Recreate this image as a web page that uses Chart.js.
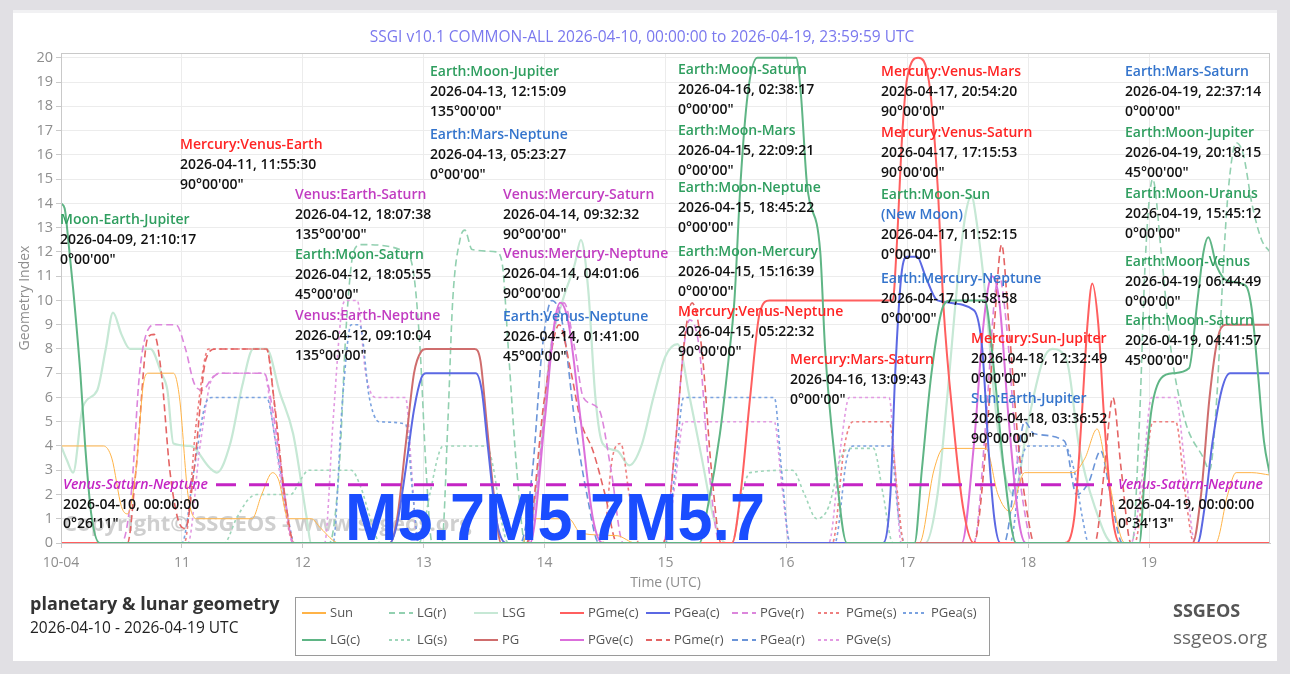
<!DOCTYPE html>
<html><head><meta charset="utf-8">
<script src="https://cdn.jsdelivr.net/npm/chart.js@4.4.1/dist/chart.umd.min.js"></script>
<style>
html,body{margin:0;padding:0;background:#e1e0e4;width:1290px;height:674px;overflow:hidden;}
#card{position:absolute;left:13px;top:13px;width:1264px;height:648px;background:#fff;box-shadow:0 -3px 0 #f1f1f3;}
canvas{display:block}
</style></head><body>
<div id="card"><canvas id="c" width="1264" height="648" style="width:1264px;height:648px"></canvas></div>
<script>
// ---------- DATA (time = day of April 2026, value = geometry index) ----------
const xTickValues = [10,11,12,13,14,15,16,17,18,19];
const xTickLabels = ['10-04','11','12','13','14','15','16','17','18','19'];

const sun = [[10,4],[10.35,4],[10.42,3.5],[10.5,1.5],[10.55,1.2],[10.62,3],[10.68,6.5],[10.72,7],[10.93,7],[10.98,6],[11.05,2],[11.12,1],[11.58,1],[11.66,2],[11.75,2.9],[11.8,2.6],[11.88,1],[12.07,1],[12.15,0.6],[12.3,0],[13.82,0],[13.88,1],[14.2,1],[14.3,0.4],[14.6,0.3],[14.75,0],[17.1,0],[17.22,3],[17.3,3.9],[17.65,3.9],[17.75,2],[17.85,1.3],[17.97,2.9],[18.37,2.9],[18.47,3.5],[18.57,4.7],[18.65,3],[18.8,0],[19.55,0],[19.65,2],[19.72,2.9],[19.85,2.9],[20,2.8]];
const lgC = [[10,14],[10.03,13.8],[10.06,12.5],[10.1,10.5],[10.16,7],[10.2,4],[10.25,1.2],[10.32,0],[15.28,0],[15.35,1.5],[15.45,4.5],[15.52,7.5],[15.57,10],[15.62,14.8],[15.68,18.5],[15.76,20],[16.08,20],[16.12,18.5],[16.17,14.8],[16.28,12],[16.32,8],[16.4,3.5],[16.5,0],[17.06,0],[17.12,3],[17.2,7],[17.3,9.8],[17.36,10],[17.64,10],[17.72,7],[17.8,3],[17.9,0],[18.92,0],[18.96,2.5],[19.02,5.5],[19.1,6.8],[19.2,7],[19.33,7.2],[19.4,10],[19.45,12],[19.49,12.6],[19.56,11.4],[19.65,10.8],[19.8,10.6],[19.85,9.6],[19.9,7],[19.95,4.2],[20,2.8]];
const lsg = [[10,4],[10.05,3.4],[10.1,2.9],[10.18,5.6],[10.3,6.3],[10.37,8],[10.43,9.5],[10.5,8.6],[10.57,8],[10.74,8],[10.83,7],[10.88,6.3],[10.93,4.1],[11.07,4],[11.23,3.1],[11.29,2.9],[11.4,4.1],[11.5,6.5],[11.59,8],[11.7,8],[11.81,6.2],[11.92,4.5],[12.03,1.1],[12.07,0],[13.85,0],[13.95,3],[14.05,8],[14.15,10],[14.25,11.5],[14.3,12.5],[14.36,10.5],[14.42,6],[14.48,4.1],[14.6,3.8],[14.7,3.2],[14.8,4],[14.9,6],[15.0,7.7],[15.1,8.2],[15.2,6],[15.3,3.5],[15.4,1],[15.5,0],[17.15,0],[17.25,2],[17.33,6],[17.42,11],[17.48,13.5],[17.53,14.3],[17.58,13],[17.65,10],[17.72,6],[17.8,3],[17.88,2],[18.0,5],[18.12,7.5],[18.2,8],[18.32,7.5],[18.42,4],[18.55,1.5],[18.7,0],[20,0]];
const lgR = [[10,0],[12.22,0],[12.3,3],[12.36,9],[12.42,12],[12.48,12.3],[12.85,12],[12.92,11],[12.97,8],[13.02,3],[13.07,0],[13.15,0],[13.2,5],[13.24,10],[13.3,12.5],[13.34,12.9],[13.4,12.1],[13.6,12],[13.65,11.5],[13.7,8],[13.77,3],[13.84,0],[18.86,0],[18.92,5],[18.97,11.8],[19.03,15],[19.1,12],[19.18,8],[19.3,5],[19.45,3.5],[19.5,3],[19.56,6],[19.62,12],[19.66,14.8],[19.72,16.5],[19.78,16],[19.85,14],[19.93,12.5],[20,12]];
const lgS = [[10,0],[11.35,0],[11.45,1],[11.55,1.8],[11.62,2],[11.9,2],[11.98,2.6],[12.05,3],[12.4,3],[12.48,2.3],[12.56,1],[12.64,0],[12.96,0],[13.05,2],[13.12,3.6],[13.16,4],[13.52,4],[13.58,3],[13.64,1],[13.7,0],[15.55,0],[15.63,2],[15.7,2.9],[16.05,3],[16.15,2],[16.25,1],[16.35,1.5],[16.45,3.5],[16.53,3.9],[16.72,3.9],[16.8,2],[16.88,0],[20,0]];
const pgmeC = [[10,0],[15.55,0],[15.62,2],[15.7,6],[15.78,9.5],[15.86,10],[16.88,10],[16.91,12],[16.96,17],[17.0,19.2],[17.09,20],[17.18,19],[17.25,14.8],[17.3,9.7],[17.38,5],[17.46,1.5],[17.55,0],[18.3,0],[18.38,1],[18.44,5],[18.49,9],[18.53,10.7],[18.58,9],[18.63,5],[18.7,1],[18.76,0],[20,0]];
const pgeaC = [[10,0],[12.72,0],[12.78,0.8],[12.85,3],[12.92,5.5],[12.98,6.8],[13.02,7],[13.43,7],[13.48,6.3],[13.53,4],[13.6,1],[13.68,0],[16.8,0],[16.86,2],[16.9,7],[16.95,11],[17.0,11.8],[17.08,11.8],[17.15,11],[17.25,10],[17.55,9.6],[17.62,8],[17.67,4],[17.72,1],[17.77,0],[19.4,0],[19.46,1.5],[19.52,4],[19.6,6.3],[19.67,7],[20,7]];
const pg = [[10,0],[12.72,0],[12.78,1],[12.85,4],[12.92,7],[12.98,7.9],[13.02,8],[13.42,8],[13.47,7.5],[13.52,5],[13.58,2],[13.64,0],[19.36,0],[19.43,2],[19.5,6],[19.57,8.5],[19.63,9],[20,9]];
const pgveC = [[10,0],[13.88,0],[14.0,5],[14.08,9],[14.13,9.9],[14.2,9],[14.3,5],[14.4,1],[14.48,0],[17.45,0],[17.55,4],[17.63,9],[17.7,11],[17.76,10],[17.84,5],[17.92,1],[17.98,0],[20,0]];
const pgveR = [[10,0],[10.5,0],[10.58,2],[10.65,7],[10.72,8.8],[10.78,9],[10.95,9],[11.03,8],[11.1,6.6],[11.17,6.3],[11.25,6.8],[11.32,7],[11.68,7],[11.75,5.5],[11.85,2],[11.92,0],[13.86,0],[13.95,3],[14.05,8],[14.16,9.9],[14.25,8],[14.32,6],[14.45,5.5],[14.55,3],[14.65,0],[14.98,0],[15.08,4],[15.15,8],[15.2,9.2],[15.28,8],[15.36,3],[15.45,0],[17.55,0],[17.65,5],[17.72,10],[17.76,11],[17.82,9],[17.9,4],[17.98,1],[18.03,0],[20,0]];
const pgmeR = [[10,0],[10.55,0],[10.62,3],[10.72,8.5],[10.77,8.6],[10.83,7],[10.9,3],[10.98,0.8],[11.03,0.6],[11.1,3],[11.2,7.6],[11.28,8],[11.7,8],[11.76,6],[11.85,2],[11.93,0],[13.85,0],[14.0,6],[14.12,9],[14.22,7],[14.3,5],[14.4,3.8],[14.5,2],[14.6,0],[14.98,0],[15.08,4],[15.16,8.5],[15.22,9.9],[15.3,8],[15.38,3],[15.46,0],[17.55,0],[17.65,4],[17.72,9],[17.78,12.3],[17.84,9],[17.92,4],[18.0,1],[18.05,0],[18.55,0],[18.63,3],[18.7,6],[18.77,3],[18.85,0],[20,0]];
const pgeaR = [[10,0],[13.8,0],[13.9,3],[13.98,8],[14.06,10],[14.15,9],[14.25,5],[14.35,2],[14.45,0],[17.8,0],[17.9,3],[17.97,5],[18.05,4.5],[18.3,4.2],[18.4,2],[18.5,2.5],[18.6,3.8],[18.68,2],[18.78,0],[20,0]];
const pgmeS = [[10,0],[11.02,0],[11.12,5],[11.22,8],[11.7,8],[11.78,5],[11.87,1],[11.93,0],[14.48,0],[14.56,3.5],[14.63,4.1],[14.7,2],[14.78,0],[16.38,0],[16.48,4],[16.55,5],[16.85,5],[16.92,2],[16.97,0],[18.88,0],[18.98,3.5],[19.03,5],[19.22,5],[19.3,2],[19.37,0],[20,0]];
const pgeaS = [[10,0],[11.0,0],[11.1,3],[11.2,5.8],[11.25,6],[11.7,6],[11.78,4],[11.88,1],[11.93,0],[12.25,0],[12.33,6],[12.4,9],[12.47,9],[12.55,6],[12.63,5],[12.85,4.9],[12.91,2],[12.96,0],[15.0,0],[15.08,3],[15.15,6],[15.9,6],[15.96,3],[16.03,0],[16.4,0],[16.5,3.5],[16.55,4],[16.86,4],[16.93,1],[16.98,0],[17.85,0],[17.95,3.5],[18.0,4],[18.3,4],[18.38,3],[18.45,1],[18.5,0],[20,0]];
const pgveS = [[10,0],[11.05,0],[11.15,4],[11.25,6.8],[11.32,7],[11.68,7],[11.75,5],[11.85,1.5],[11.92,0],[12.18,0],[12.25,5],[12.32,9.5],[12.36,10],[12.45,10],[12.52,7],[12.6,6],[12.85,6],[12.9,3],[12.95,0],[15.0,0],[15.08,2.5],[15.15,5],[15.9,5],[15.96,2.5],[16.03,0],[16.35,0],[16.45,4],[16.52,6],[16.85,6],[16.9,3],[16.95,0],[18.85,0],[18.95,3],[19.02,6],[19.22,6],[19.3,3],[19.38,0],[20,0]];

// reference level (Venus-Saturn-Neptune)
const refLevel = 2.4;

// annotations: title, extra line, date, angle, colour key
const annTitles = ['Moon-Earth-Jupiter','Mercury:Venus-Earth','Venus:Earth-Saturn','Earth:Moon-Saturn','Venus:Earth-Neptune','Earth:Moon-Jupiter','Earth:Mars-Neptune','Venus:Mercury-Saturn','Venus:Mercury-Neptune','Earth:Venus-Neptune','Earth:Moon-Saturn','Earth:Moon-Mars','Earth:Moon-Neptune','Earth:Moon-Mercury','Mercury:Venus-Neptune','Mercury:Mars-Saturn','Mercury:Venus-Mars','Mercury:Venus-Saturn','Earth:Moon-Sun','Earth:Mercury-Neptune','Mercury:Sun-Jupiter','Sun:Earth-Jupiter','Earth:Mars-Saturn','Earth:Moon-Jupiter','Earth:Moon-Uranus','Earth:Moon-Venus','Earth:Moon-Saturn'];
const annDates = ['2026-04-09, 21:10:17','2026-04-11, 11:55:30','2026-04-12, 18:07:38','2026-04-12, 18:05:55','2026-04-12, 09:10:04','2026-04-13, 12:15:09','2026-04-13, 05:23:27','2026-04-14, 09:32:32','2026-04-14, 04:01:06','2026-04-14, 01:41:00','2026-04-16, 02:38:17','2026-04-15, 22:09:21','2026-04-15, 18:45:22','2026-04-15, 15:16:39','2026-04-15, 05:22:32','2026-04-16, 13:09:43','2026-04-17, 20:54:20','2026-04-17, 17:15:53','2026-04-17, 11:52:15','2026-04-17, 01:58:58','2026-04-18, 12:32:49','2026-04-18, 03:36:52','2026-04-19, 22:37:14','2026-04-19, 20:18:15','2026-04-19, 15:45:12','2026-04-19, 06:44:49','2026-04-19, 04:41:57'];
const annAngles = ['0°00\'00"','90°00\'00"','135°00\'00"','45°00\'00"','135°00\'00"','135°00\'00"','0°00\'00"','90°00\'00"','90°00\'00"','45°00\'00"','0°00\'00"','0°00\'00"','0°00\'00"','0°00\'00"','90°00\'00"','0°00\'00"','90°00\'00"','90°00\'00"','0°00\'00"','0°00\'00"','0°00\'00"','90°00\'00"','0°00\'00"','45°00\'00"','0°00\'00"','0°00\'00"','45°00\'00"'];
const annKind = ['g','r','m','g','m','g','b','m','m','b','g','g','g','g','r','r','r','r','g','b','r','b','b','g','g','g','g'];
const annExtra = {18:'(New Moon)'};
const refLabels = ['Venus-Saturn-Neptune','Venus-Saturn-Neptune'];
const refDates = ['2026-04-10, 00:00:00','2026-04-19, 00:00:00'];
const refAngles = ['0°26\'11"','0°34\'13"'];

// ---------- LAYOUT / STYLE ----------
const OFF = 13;
const annPos = [[60,220],[180,145],[295,195],[295,255],[295,316],[430,72],[430,135],[503,195],[503,254],[503,317],[678,70],[678,131],[678,188],[678,252],[678,312],[790,360],[881,72],[881,133],[881,195],[881,279],[971,339],[971,399],[1125,72],[1125,133],[1125,194],[1125,262],[1125,321]];
const kindColor = {g:'#2f9e5f', r:'#ff2424', m:'#c13cc1', b:'#3474cc'};
const FONT = "'Open Sans','Noto Sans',sans-serif";

const series = [
 {label:'LG(c)', d:lgC, c:'#5fb585', w:2, dash:[]},
 {label:'PGme(c)', d:pgmeC, c:'#ff5f5f', w:2, dash:[]},
 {label:'PGea(c)', d:pgeaC, c:'#5b68e3', w:2, dash:[]},
 {label:'PG', d:pg, c:'#cf6d6d', w:2, dash:[]},
 {label:'PGve(c)', d:pgveC, c:'#db6fdb', w:2, dash:[]},
 {label:'Sun', d:sun, c:'#ffb347', w:1, dash:[]},
 {label:'PGme(r)', d:pgmeR, c:'#e46464', w:1.6, dash:[7,4]},
 {label:'PGve(r)', d:pgveR, c:'#dc86dc', w:1.6, dash:[7,4]},
 {label:'PGea(r)', d:pgeaR, c:'#6a94d8', w:1.6, dash:[7,4]},
 {label:'PGme(s)', d:pgmeS, c:'#ee7f7f', w:1.6, dash:[3,3]},
 {label:'PGea(s)', d:pgeaS, c:'#7aa2e0', w:1.6, dash:[3,3]},
 {label:'PGve(s)', d:pgveS, c:'#e29ae2', w:1.6, dash:[3,3]},
 {label:'LG(r)', d:lgR, c:'#92d0b0', w:1.6, dash:[7,4]},
 {label:'LG(s)', d:lgS, c:'#9fd6ba', w:1.6, dash:[3,3]},
 {label:'LSG', d:lsg, c:'#c6e8d5', w:2.2, dash:[]}
];
const legendOrder = [['Sun','LG(r)','LSG','PGme(c)','PGea(c)','PGve(r)','PGme(s)','PGea(s)'],['LG(c)','LG(s)','PG','PGve(c)','PGme(r)','PGea(r)','PGve(s)']];
const legendCols = [302,389,474,560,646,732,818,903];
const legendRows = [613,640];

const overlay = {
  id:'overlay',
  beforeDatasetsDraw(chart){
    const ctx = chart.ctx;
    ctx.save();
    ctx.font = "bold 22px " + FONT;
    ctx.fillStyle = 'rgba(175,175,175,0.6)';
    ctx.textBaseline = 'middle';
    ctx.fillText('Copyright© SSGEOS - www.ssgeos.org', 63-OFF, 525-OFF);
    ctx.restore();
  },
  afterDatasetsDraw(chart){
    const ctx = chart.ctx, ca = chart.chartArea, ys = chart.scales.y;
    ctx.save();
    // frame
    ctx.strokeStyle = '#c9c9c9'; ctx.lineWidth = 1;
    ctx.strokeRect(ca.left+0.5, ca.top+0.5, ca.right-ca.left-1, ca.bottom-ca.top);
    // reference dashed line
    const yv = ys.getPixelForValue(refLevel);
    ctx.strokeStyle = '#c424c4'; ctx.lineWidth = 3; ctx.setLineDash([20,13]);
    ctx.beginPath(); ctx.moveTo(216-OFF, yv); ctx.lineTo(1112-OFF, yv); ctx.stroke();
    ctx.setLineDash([]);
    // reference labels
    ctx.textBaseline = 'middle';
    [[63,0],[1118,1]].forEach(([px,i])=>{
      ctx.font = "italic 600 14px " + FONT; ctx.fillStyle = '#c424c4';
      ctx.fillText(refLabels[i], px-OFF, yv);
      ctx.font = "600 14px " + FONT; ctx.fillStyle = '#111';
      ctx.fillText(refDates[i], px-OFF, yv+20);
      ctx.fillText(refAngles[i], px-OFF, yv+39);
    });
    // annotations
    annTitles.forEach((t,i)=>{
      const [px,py] = annPos[i];
      let y = py-OFF;
      ctx.font = "600 14px " + FONT; ctx.fillStyle = kindColor[annKind[i]];
      ctx.fillText(t, px-OFF, y);
      if (annExtra[i]) { y += 20; ctx.fillStyle = kindColor.b; ctx.fillText(annExtra[i], px-OFF, y); }
      ctx.fillStyle = '#111';
      ctx.fillText(annDates[i], px-OFF, y+20);
      ctx.fillText(annAngles[i], px-OFF, y+40);
    });
    // big magnitude text
    ctx.font = "bold 66px 'Liberation Sans', Arial, sans-serif";
    ctx.fillStyle = '#1a4dff'; ctx.textBaseline = 'alphabetic';
    const txt = 'M5.7M5.7M5.7';
    const w = ctx.measureText(txt).width;
    ctx.translate(345-OFF, 540-OFF); ctx.scale(420/w, 1);
    ctx.fillText(txt, 0, 0);
    ctx.restore();
  },
  afterDraw(chart){
    const ctx = chart.ctx;
    ctx.save();
    ctx.textBaseline = 'middle';
    // title
    ctx.font = "15.5px " + FONT; ctx.fillStyle = '#7a78ee'; ctx.textAlign = 'center';
    ctx.fillText('SSGI v10.1 COMMON-ALL 2026-04-10, 00:00:00 to 2026-04-19, 23:59:59 UTC', 642-OFF, 38-OFF);
    // legend box
    ctx.textAlign = 'left';
    ctx.strokeStyle = '#9a9a9a'; ctx.lineWidth = 1;
    ctx.strokeRect(295-OFF+0.5, 597-OFF+0.5, 694, 58);
    ctx.font = "13px " + FONT;
    legendOrder.forEach((row,ri)=>{
      row.forEach((lab,ci)=>{
        const s = series.find(q=>q.label===lab);
        const x = legendCols[ci]-OFF, y = legendRows[ri]-OFF;
        ctx.strokeStyle = s.c; ctx.lineWidth = 2;
        ctx.setLineDash(s.dash.length ? (s.dash[0]>4?[6,4]:[3,3]) : []);
        ctx.beginPath(); ctx.moveTo(x, y); ctx.lineTo(x+24, y); ctx.stroke();
        ctx.setLineDash([]);
        ctx.fillStyle = '#555';
        ctx.fillText(lab, x+28, y);
      });
    });
    // footer
    ctx.font = "bold 18px " + FONT; ctx.fillStyle = '#333';
    ctx.fillText('planetary & lunar geometry', 30-OFF, 605-OFF);
    ctx.font = "15.5px " + FONT; ctx.fillStyle = '#222';
    ctx.fillText('2026-04-10 - 2026-04-19 UTC', 30-OFF, 629-OFF);
    ctx.font = "bold 18px " + FONT; ctx.fillStyle = '#555';
    ctx.fillText('SSGEOS', 1173-OFF, 612-OFF);
    ctx.font = "19px " + FONT; ctx.fillStyle = '#666';
    ctx.fillText('ssgeos.org', 1173-OFF, 639-OFF);
    ctx.restore();
  }
};

new Chart(document.getElementById('c'), {
  type:'line',
  data:{ datasets: series.map(s=>({
    label:s.label,
    data:s.d.map(p=>({x:p[0], y:p[1]})),
    borderColor:s.c, backgroundColor:s.c, borderWidth:s.w, borderDash:s.dash,
    pointRadius:0, fill:false, cubicInterpolationMode:'monotone'
  }))},
  options:{
    responsive:false, animation:false, devicePixelRatio:1,
    layout:{padding:{top:40, right:7, left:0, bottom:66}},
    plugins:{legend:{display:false}, tooltip:{enabled:false}, title:{display:false}},
    scales:{
      x:{type:'linear', min:10, max:20,
        afterBuildTicks:(sc)=>{ sc.ticks = xTickValues.map(v=>({value:v})); },
        afterFit:(sc)=>{ sc.height = 52; },
        ticks:{color:'#8e8e8e', font:{size:14, family:FONT}, maxRotation:0, autoSkip:false, padding:7,
          callback:(v)=>{ const i = xTickValues.indexOf(v); return i>=0 ? xTickLabels[i] : ''; }},
        grid:{color:'#ececec', tickLength:5, tickColor:'#c9c9c9'},
        border:{color:'#c9c9c9'},
        title:{display:true, text:'Time (UTC)', color:'#8e8e8e', font:{size:14, family:FONT}, padding:{top:2,bottom:4}}
      },
      y:{min:0, max:20.2,
        afterFit:(sc)=>{ sc.width = 48; },
        ticks:{stepSize:1, includeBounds:false, color:'#8e8e8e', font:{size:14.5, family:FONT}, padding:3},
        grid:{color:'#ececec', tickLength:5, tickColor:'#c9c9c9'},
        border:{color:'#c9c9c9'},
        title:{display:true, text:'Geometry Index', color:'#8e8e8e', font:{size:14, family:FONT}, padding:{top:4,bottom:2}}
      }
    }
  },
  plugins:[overlay]
});
</script></body></html>
